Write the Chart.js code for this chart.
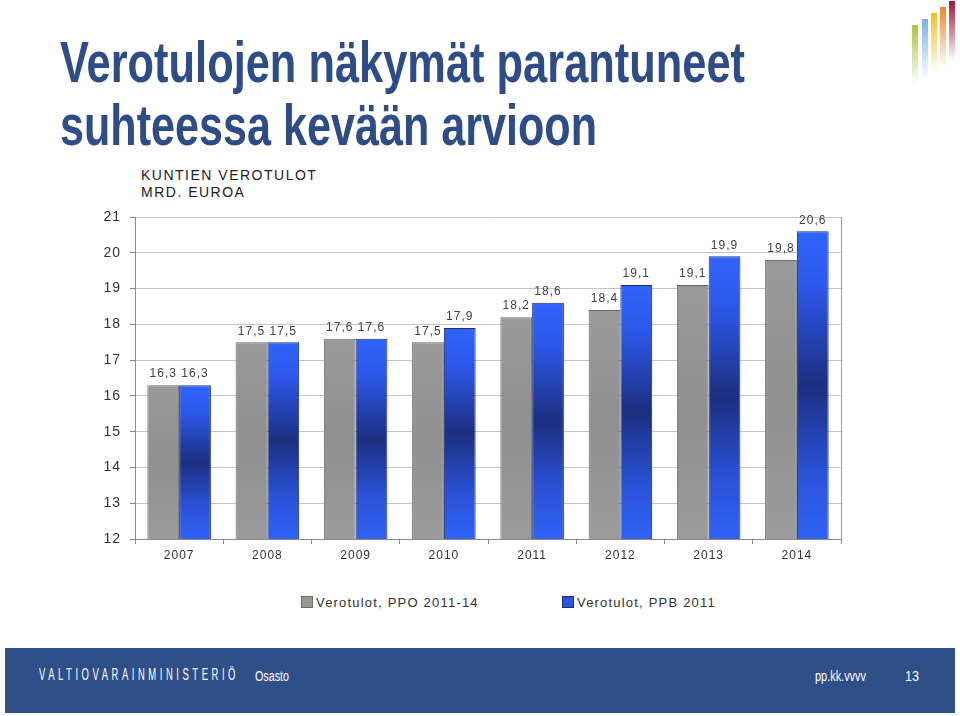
<!DOCTYPE html>
<html>
<head>
<meta charset="utf-8">
<script src="https://cdn.jsdelivr.net/npm/chart.js@4/dist/chart.umd.min.js"></script>
<style>
  html, body { margin: 0; padding: 0; background: #fff; }
  body { width: 960px; height: 716px; position: relative; overflow: hidden; font-family: "Liberation Sans", Arial, sans-serif; }
  .fit { position: absolute; white-space: nowrap; transform-origin: 0 0; }
  .t { font-weight: bold; font-size: 58px; line-height: 63px; color: #2e4c88; left: 60px; }
  #sub { position: absolute; left: 141px; top: 167px; font-size: 14px; line-height: 17px; letter-spacing: 1.5px; color: #222; }
  #wrap { position: absolute; left: 0; top: 160px; width: 960px; height: 420px; }
  #legend { position: absolute; top: 595px; left: 0; width: 960px; font-size: 13px; letter-spacing: 1.2px; color: #333; }
  .li { position: absolute; top: 0; white-space: nowrap; }
  .li i { display: inline-block; width: 10px; height: 10px; margin-right: 3px; vertical-align: -1px; }
  #footer { position: absolute; left: 5px; top: 648px; width: 950px; height: 65px; background: #2f4f88; color: #fff; }
  #footer .fit { top: 20px; font-size: 14px; line-height: 16px; }
  .logo { position: absolute; width: 6px; height: 60px; }
</style>
</head>
<body>
<div class="logo" style="left:912px;top:25px;background:linear-gradient(#a9c83a,rgba(169,200,58,0))"></div>
<div class="logo" style="left:922px;top:19px;background:linear-gradient(#7cb1e2,rgba(124,177,226,0))"></div>
<div class="logo" style="left:931px;top:13px;background:linear-gradient(#f3bf22,rgba(243,191,34,0))"></div>
<div class="logo" style="left:940px;top:7px;background:linear-gradient(#ec8630,rgba(236,134,48,0))"></div>
<div class="logo" style="left:949px;top:1px;background:linear-gradient(#a3123d,rgba(163,18,61,0))"></div>

<div class="fit t" data-w="685" style="top:30px">Verotulojen näkymät parantuneet</div>
<div class="fit t" data-w="537" style="top:93px">suhteessa kevään arvioon</div>
<div id="sub">KUNTIEN VEROTULOT<br>MRD. EUROA</div>

<div id="wrap"><canvas id="chartVero"></canvas></div>

<div id="legend">
  <span class="li" style="left:301px"><i style="background:#979797;border:1px solid #6a6a6a"></i>Verotulot, PPO 2011-14</span>
  <span class="li" style="left:562px"><i style="background:#2a55e0;border:1px solid #1b2d7c"></i>Verotulot, PPB 2011</span>
</div>

<div id="footer">
  <div class="fit" data-w="200" style="left:34px;top:19px;font-size:16px;letter-spacing:6px">VALTIOVARAINMINISTERIÖ</div>
  <div class="fit" data-w="34" style="left:250px">Osasto</div>
  <div class="fit" data-w="51" style="left:810px">pp.kk.vvvv</div>
  <div class="fit" data-w="14" style="left:900px">13</div>
</div>

<script>
// squeeze text into the narrow widths of the original slide font
document.querySelectorAll(".fit").forEach(function (el) {
    var w = el.getBoundingClientRect().width;
    el.style.transform = "scaleX(" + (el.dataset.w / w) + ")";
});

var years = ["2007", "2008", "2009", "2010", "2011", "2012", "2013", "2014"];
var ppo = [16.3, 17.5, 17.6, 17.5, 18.2, 18.4, 19.1, 19.8];
var ppb = [16.3, 17.5, 17.6, 17.9, 18.6, 19.1, 19.9, 20.6];
var yTicks = [12, 13, 14, 15, 16, 17, 18, 19, 20, 21];

function barGradient(ctx, stops, fallback) {
    var chart = ctx.chart;
    if (!chart.chartArea || ctx.parsed === undefined) return fallback;
    var y = chart.scales.y;
    var top = y.getPixelForValue(ctx.parsed.y);
    var bottom = y.getPixelForValue(y.min);
    if (!(bottom > top)) return fallback;
    var g = chart.ctx.createLinearGradient(0, top, 0, bottom);
    stops.forEach(function (s) { g.addColorStop(s[0], s[1]); });
    return g;
}

// data labels and right frame line
var extras = {
    id: "extras",
    beforeDraw: function (chart) {
        chart.ctx.letterSpacing = "1px";
    },
    afterDatasetsDraw: function (chart) {
        var c = chart.ctx;
        c.save();
        c.letterSpacing = "1px";
        c.font = "12px 'Liberation Sans', Arial, sans-serif";
        c.fillStyle = "#404040";
        c.textAlign = "center";
        c.textBaseline = "bottom";
        chart.data.datasets.forEach(function (ds, i) {
            chart.getDatasetMeta(i).data.forEach(function (bar, j) {
                c.fillText(String(ds.data[j]).replace(".", ","), bar.x, bar.y - 5);
            });
        });
        var a = chart.chartArea;
        c.strokeStyle = "#9a9a9a";
        c.lineWidth = 1;
        c.beginPath();
        c.moveTo(Math.round(a.right) + 0.5, a.top);
        c.lineTo(Math.round(a.right) + 0.5, a.bottom);
        c.stroke();
        c.restore();
    }
};

var vero = document.getElementById("chartVero").getContext("2d");
var chart = new Chart(vero, {
    type: "bar",
    data: {
        labels: years,
        datasets: [
            {
                label: "Verotulot, PPO 2011-14",
                data: ppo,
                backgroundColor: function (ctx) {
                    return barGradient(ctx, [[0, "#9a9a9a"], [0.5, "#909090"], [1, "#9b9b9b"]], "#979797");
                },
                borderColor: "#6a6a6a",
                borderWidth: 1
            },
            {
                label: "Verotulot, PPB 2011",
                data: ppb,
                backgroundColor: function (ctx) {
                    return barGradient(ctx, [[0, "#3064fc"], [0.18, "#2c58ea"], [0.5, "#1c2f80"], [0.78, "#2a52d6"], [1, "#3062f6"]], "#2a55e0");
                },
                borderColor: "#1c2e7a",
                borderWidth: 1
            }
        ]
    },
    options: {
        responsive: true,
        maintainAspectRatio: false,
        animation: false,
        layout: { padding: { top: 57, right: 119, bottom: 0, left: 0 } },
        plugins: {
            legend: { display: false },
            tooltip: { enabled: false }
        },
        datasets: {
            bar: { categoryPercentage: 0.72, barPercentage: 1 }
        },
        scales: {
            x: {
                grid: { drawOnChartArea: false, drawTicks: true, tickLength: 5, color: "#8a8a8a", offset: true },
                border: { color: "#8a8a8a" },
                ticks: { color: "#333", padding: 4, font: { family: "'Liberation Sans', Arial, sans-serif", size: 12 } },
                afterFit: function (s) { s.height = 41; }
            },
            y: {
                min: 12,
                max: 21,
                afterBuildTicks: function (s) { s.ticks = yTicks.map(function (v) { return { value: v }; }); },
                grid: { color: "#c4c4c4", tickLength: 5, tickColor: "#8a8a8a" },
                border: { color: "#8a8a8a" },
                ticks: { color: "#333", padding: 9, font: { family: "'Liberation Sans', Arial, sans-serif", size: 14 } },
                afterFit: function (s) { s.width = 135; }
            }
        }
    },
    plugins: [extras]
});
</script>
</body>
</html>
